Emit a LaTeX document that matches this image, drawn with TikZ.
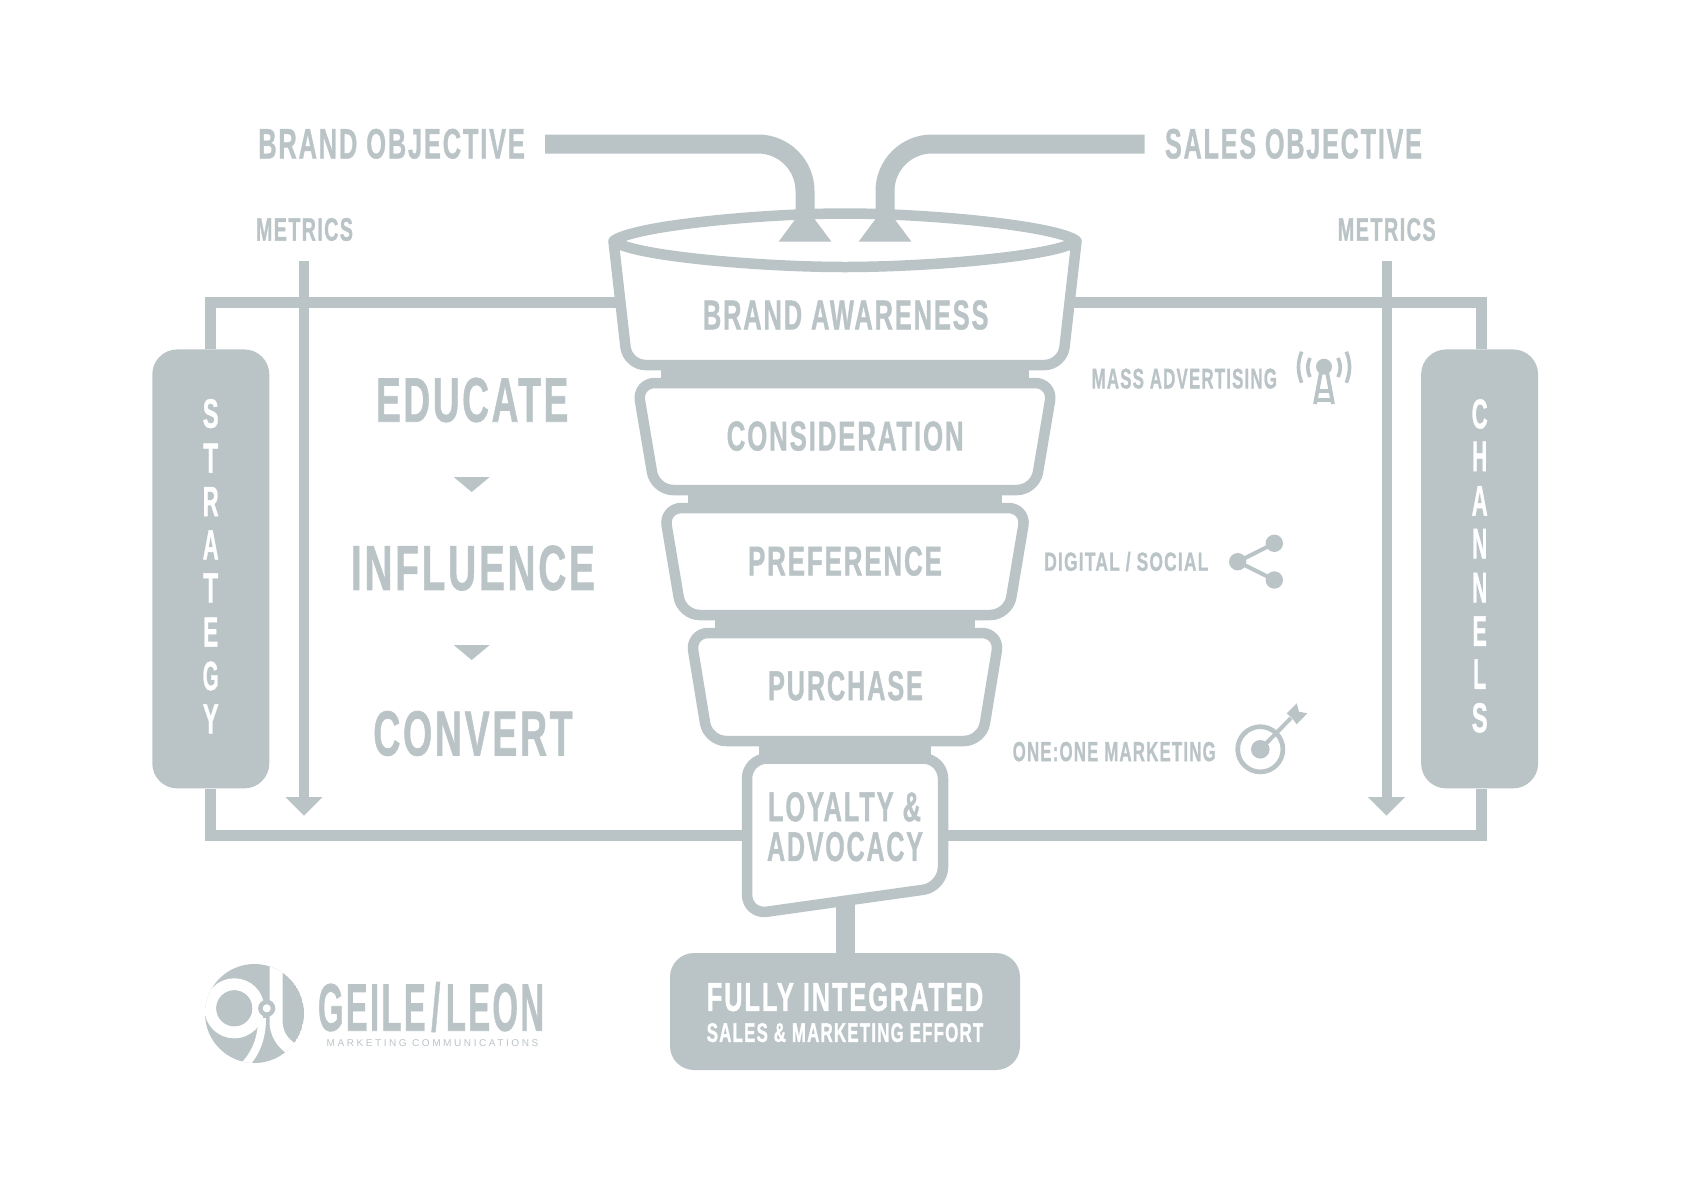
\documentclass[tikz,border=0pt]{standalone}
\usepackage{fontspec}
\usepackage{graphicx}
\setmainfont{Liberation Sans}
\usetikzlibrary{arrows.meta,calc}
\definecolor{ink}{HTML}{BAC4C7}
\newcommand\fitbox[3]{\resizebox*{#1pt}{#2pt}{#3}}
\tikzset{
  x=1pt,y=-1pt,
  lbl/.style={inner sep=0pt,outer sep=0pt,text=ink,yshift=-0.3pt,font=\bfseries\fontsize{40}{44}\selectfont\addfontfeature{LetterSpace=7,FakeBold=1.2}},
  wlbl/.style={lbl,text=white},
  outline/.style={draw=ink,line width=10.5pt,line join=round,fill=white},
  thinline/.style={draw=ink,line width=11pt,line join=miter},
  metric/.style={draw=ink,line width=10pt,-{Triangle[width=36pt,length=18.7pt]}},
  objline/.style={draw=ink,line width=19pt,rounded corners=47pt},
  sidebox/.style={fill=ink,rounded corners=25pt,minimum width=117pt,minimum height=439pt,inner sep=0pt},
  icon/.style={draw=ink,line cap=round},
}
\begin{document}
\begin{tikzpicture}
\useasboundingbox (0,0) rectangle (1692,1192);
% labels that anchor connectors
\node[lbl] (brandobj) at (391.6,143.5) {\fitbox{266.7}{30}{BRAND OBJECTIVE}};
\node[lbl] (salesobj) at (1293.5,143.5) {\fitbox{257}{30}{SALES OBJECTIVE}};
\node[lbl] (metricL) at (304.5,229.2) {\fitbox{97}{23}{METRICS}};
\node[lbl] (metricR) at (1386.7,229.2) {\fitbox{98}{23}{METRICS}};
% side boxes
\node[sidebox] (strategy) at (210.8,568.9) {};
\node[sidebox] (channels) at (1479.6,568.9) {};
% frame
\coordinate (ftl) at (845,302.5);
\coordinate (fbl) at (845,835.5);
\draw[thinline] (strategy.north) |- (ftl);
\draw[thinline] (strategy.south) |- (fbl);
\draw[thinline] ([xshift=2pt]channels.north) |- (ftl);
\draw[thinline] ([xshift=2pt]channels.south) |- (fbl);
% metric arrows
\coordinate (mLs) at (304,261); \coordinate (mLe) at (304,815.7);
\coordinate (mRs) at (1386.5,261); \coordinate (mRe) at (1386.5,815.7);
\draw[metric] (mLs) -- (mLe);
\draw[metric] (mRs) -- (mRe);
% funnel stages
\coordinate (lensL) at (613.5,241); \coordinate (lensR) at (1076.5,241);
\draw[outline,rounded corners=18pt] (lensL) -- (627.5,365) -- (1062.5,365) -- (lensR);
\fill[ink] (661,360) rectangle (1029,388);
\draw[outline,rounded corners=18pt] (637,383) -- (655,490) -- (1035,490) -- (1053,383) -- cycle;
\fill[ink] (688,485) rectangle (1002,513);
\draw[outline,rounded corners=18pt] (663.7,508) -- (681.7,615) -- (1008.3,615) -- (1026.3,508) -- cycle;
\fill[ink] (715,610) rectangle (975,638);
\draw[outline,rounded corners=18pt] (690.3,633) -- (708,741) -- (982,741) -- (999.7,633) -- cycle;
% final box and stem
\node[fill=ink,rounded corners=24pt,minimum width=350pt,minimum height=117pt,inner sep=0pt] (final) at (845,1011.5) {};
\coordinate (stemtop) at (845,895);
\draw[draw=ink,line width=19pt] (stemtop) -- (final.north);
\draw[outline,rounded corners=20pt] (747,758.5) -- (943,758.5) -- (943,887) -- (747,914.5) -- cycle;
\fill[ink] (759,736) rectangle (931,763.5);
% lens
\draw[outline] (lensL) .. controls (632,226) and (760,213.5) .. (845,213.5)
  .. controls (930,213.5) and (1058,226) .. (lensR)
  .. controls (1058,256) and (930,267) .. (845,267)
  .. controls (760,267) and (632,256) .. cycle;
% objectives
\coordinate (inL) at (805,222); \coordinate (inR) at (885,222);
\coordinate (boS) at (545,144); \coordinate (soS) at (1144.7,144);
\draw[objline] (boS) -| (inL);
\draw[objline] (soS) -| (inR);
\fill[ink] (778.6,241.7) -- (831.4,241.7) -- (814.5,219) -- (795.5,219) -- cycle;
\fill[ink] (858.6,241.7) -- (911.4,241.7) -- (894.5,219) -- (875.5,219) -- cycle;
% stage labels
\node[lbl] (s1) at (845.7,314.7) {\fitbox{285.7}{29.5}{BRAND AWARENESS}};
\node[lbl] (s2) at (845.2,435.8) {\fitbox{237}{29.5}{CONSIDERATION}};
\node[lbl] (s3) at (845,560.8) {\fitbox{194}{29.5}{PREFERENCE}};
\node[lbl] (s4) at (845.5,685.5) {\fitbox{155}{29.5}{PURCHASE}};
\node[lbl] (s5a) at (844.5,806.5) {\fitbox{153}{29.5}{LOYALTY \&}};
\node[lbl] (s5b) at (845,846.3) {\fitbox{156}{29.5}{ADVOCACY}};
\node[wlbl] (f1) at (845,996.7) {\fitbox{276.5}{28.5}{FULLY INTEGRATED}};
\node[wlbl] (f2) at (845,1032.3) {\fitbox{276.5}{19}{SALES \& MARKETING EFFORT}};
% left column
\node[lbl] (edu) at (472.2,399.7) {\fitbox{192.3}{44.5}{EDUCATE}};
\node[lbl] (inf) at (473,567.7) {\fitbox{244}{45}{INFLUENCE}};
\node[lbl] (con) at (473,733.2) {\fitbox{199.4}{45}{CONVERT}};
\fill[ink] (453.7,477) -- (489.7,477) -- (471.7,492) -- cycle;
\fill[ink] (453.7,645) -- (489.7,645) -- (471.7,660) -- cycle;
% vertical words
\foreach \c/\y/\w [count=\i] in {S/413.3/16,T/457.8/15,R/501.2/16,A/544.5/16,T/587.5/15,E/631.7/15,G/675.7/16,Y/718.5/16}
  \node[wlbl] (st\i) at (210.7,\y) {\fitbox{\w}{29}{\c}};
\foreach \c/\y/\w [count=\i] in {C/413.7/16,H/456/15,A/500.5/16,N/543.3/15,N/587.3/15,E/630.7/14.5,L/673.7/13,S/717.5/16}
  \node[wlbl] (ch\i) at (1479.7,\y) {\fitbox{\w}{29.5}{\c}};
% channel labels
\node[lbl] (ma) at (1184.3,378.3) {\fitbox{185.3}{20}{MASS ADVERTISING}};
\node[lbl] (ds) at (1126.3,561.2) {\fitbox{164}{19.5}{DIGITAL / SOCIAL}};
\node[lbl] (om) at (1114.2,751.3) {\fitbox{203}{19.5}{ONE:ONE MARKETING}};
% tower icon
\fill[ink] (1324,366.7) circle[radius=8pt];
\draw[icon,line width=3.8pt,line cap=butt] (1321,372) -- (1315,404) (1327,372) -- (1333,404) (1318.5,391) -- (1329.5,391) (1316.5,400) -- (1331.5,400);
\draw[icon,line width=3.6pt,line cap=butt] (1301.7,351.7) .. controls (1297.4,362) and (1297.4,372) .. (1301.7,382.7);
\draw[icon,line width=3.6pt,line cap=butt] (1310,358) .. controls (1307,364) and (1307,371) .. (1310,377);
\draw[icon,line width=3.6pt,line cap=butt] (1346.3,351.7) .. controls (1350.6,362) and (1350.6,372) .. (1346.3,382.7);
\draw[icon,line width=3.6pt,line cap=butt] (1338,358) .. controls (1341,364) and (1341,371) .. (1338,377);
% share icon
\draw[icon,line width=4pt] (1274.3,543.3) -- (1237.7,561.7) -- (1274.3,580);
\fill[ink] (1237.7,561.7) circle[radius=8.7pt] (1274.3,543.3) circle[radius=8.7pt] (1274.3,580) circle[radius=8.7pt];
% target icon
\draw[draw=ink,line width=4.7pt] (1260.3,749.3) circle[radius=22.6pt];
\fill[ink] (1260.3,749.3) circle[radius=9.3pt];
\draw[icon,line width=4pt,line cap=butt] (1260.3,749.3) -- (1291,718);
\fill[ink] (1286.7,713.3) -- (1296.7,703.3) -- (1299,711.7) -- (1307.3,713.3) -- (1296.7,724.3) -- (1292,718) -- cycle;
% logo
\begin{scope}
  \clip (254.5,1013.5) circle[radius=49.5pt];
  \fill[ink] (254.5,1013.5) circle[radius=49.5pt];
  \draw[white,line width=12pt] (234.3,1008.3) circle[radius=24pt];
  \fill[ink] (234.3,1008.3) circle[radius=18pt];
  \draw[white,line width=13pt] (276,955) -- (276,1020) .. controls (276,1033) and (281,1042) .. (293,1050);
  \draw[white,line width=8pt] (262,1018) .. controls (262,1040) and (255,1055) .. (242,1068);
\end{scope}
\draw[draw=ink,line width=2.6pt] (266.7,978) -- (266.7,1000);
\draw[draw=ink,line width=4.5pt,fill=white] (266.7,1008.3) circle[radius=6.3pt];
\node[lbl] (gl) at (431,1006.7) {\fitbox{226}{50}{GEILE\,/\,LEON}};
\node[lbl,font=\fontsize{10}{12}\selectfont\addfontfeature{LetterSpace=25}] (mc) at (432.5,1043) {\fitbox{211.6}{7}{MARKETING COMMUNICATIONS}};
\end{tikzpicture}
\end{document}
